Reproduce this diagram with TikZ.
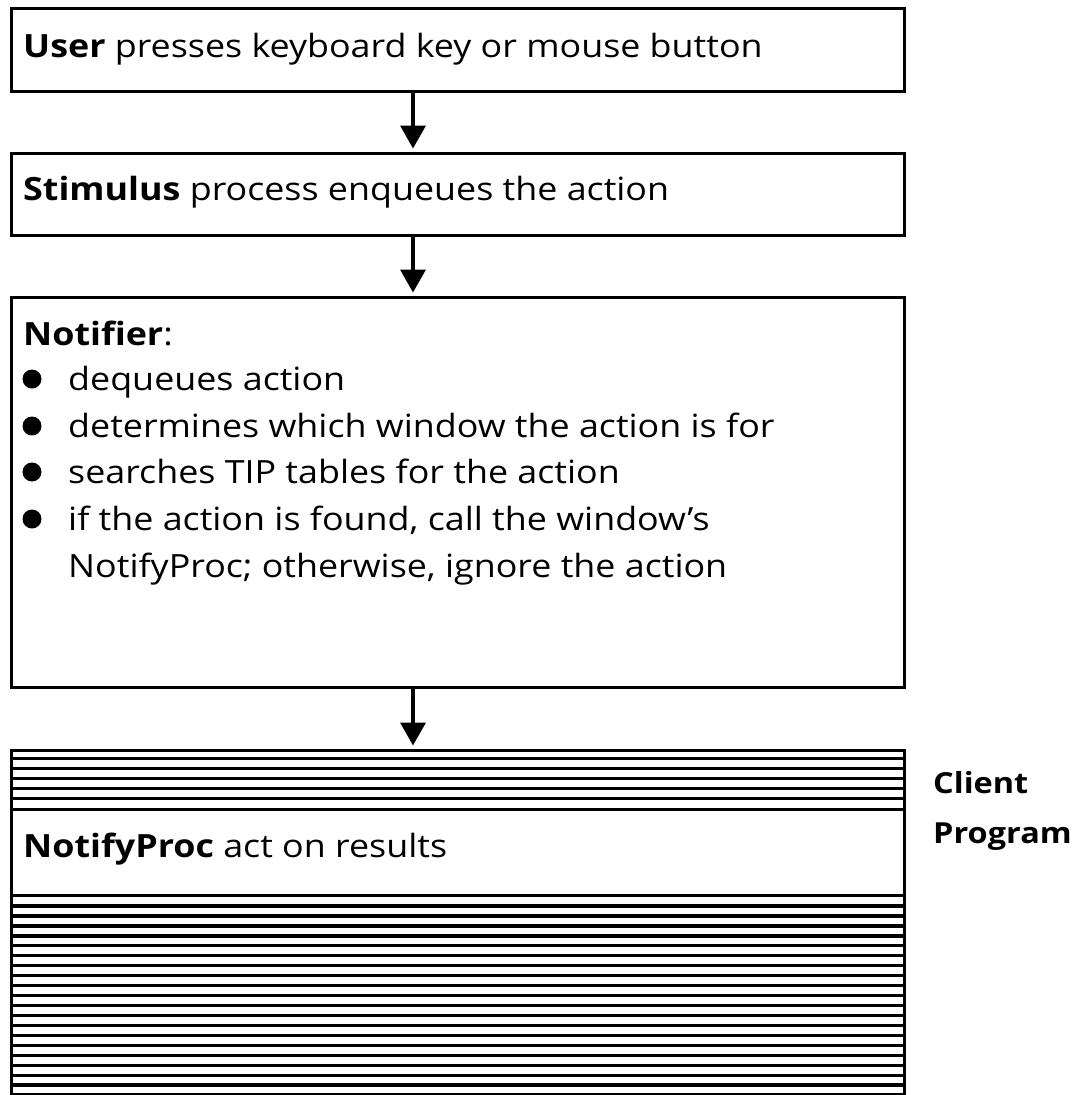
\documentclass[tikz,border=0pt]{standalone}
\usepackage{fontspec}
\setmainfont{Open Sans}[FakeStretch=1.12]
\usetikzlibrary{arrows.meta}

\begin{document}
\begin{tikzpicture}[x=1pt,y=-1pt,
  panel/.style={draw, line width=2.8pt, anchor=north west, inner sep=0pt,
                minimum width=893pt},
  txt/.style={anchor=base west, inner sep=0pt, font=\fontsize{32}{38}\selectfont},
  side/.style={anchor=base west, inner sep=0pt, font=\fontsize{29}{34}\selectfont\bfseries},
  flow/.style={line width=3.8pt, shorten >=3.5pt, -{Triangle[length=23pt,width=25pt]}},
  dot/.style={circle, fill, inner sep=0pt, minimum size=19pt},
  rule/.style={line width=3.3pt}]
\useasboundingbox (0,0) rectangle (1090,1095);

% process boxes
\node[panel, minimum height=83pt]  (user)     at (10,7)   {};
\node[panel, minimum height=82pt]  (stimulus) at (10,152) {};
\node[panel, minimum height=390pt] (notifier) at (10,296) {};

% client program block: frame with horizontal rules
\node[panel, minimum height=344pt] (client) at (10,749) {};
\foreach \k in {1,...,5}
  \draw[rule] (10,749+9.83*\k) -- (903,749+9.83*\k);
\foreach \k in {0,...,18}
  \draw[rule] (10,906+9.95*\k) -- (903,906+9.95*\k);
\node[panel, fill=white, minimum height=86pt] (proc) at (10,808) {};

% connectors
\draw[flow] ([xshift=403pt]user.south west)     -- ([xshift=403pt]stimulus.north west);
\draw[flow] ([xshift=403pt]stimulus.south west) -- ([xshift=403pt]notifier.north west);
\draw[flow] ([xshift=403pt]notifier.south west) -- ([xshift=403pt]client.north west);

% texts
\node[txt] (tuser) at (23,57)  {\textbf{User} presses keyboard key or mouse button};
\node[txt] (tstim) at (23,200) {\textbf{Stimulus} process enqueues the action};
\node[txt] (tnot)  at (23,345) {\textbf{Notifier}:};

\node[dot] (b1) at (32,379) {};
\node[dot] (b2) at (32,426) {};
\node[dot] (b3) at (32,472) {};
\node[dot] (b4) at (32,519) {};
\node[txt] (l1) at (68,390) {dequeues action};
\node[txt] (l2) at (68,437) {determines which window the action is for};
\node[txt] (l3) at (68,483) {searches TIP tables for the action};
\node[txt] (l4) at (68,530) {if the action is found, call the window’s};
\node[txt] (l5) at (68,577) {NotifyProc; otherwise, ignore the action};

\node[txt] (tproc) at (23,857) {\textbf{NotifyProc} act on results};

\node[side] (cl1) at (933,793) {Client};
\node[side] (cl2) at (933,843) {Program};
\end{tikzpicture}
\end{document}
